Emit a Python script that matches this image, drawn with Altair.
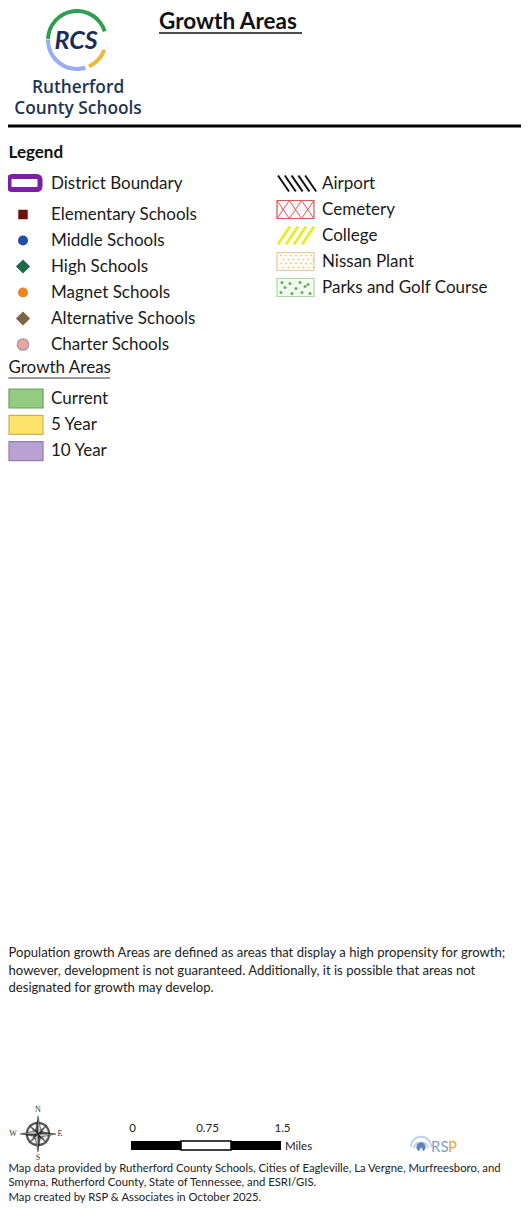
import altair as alt
import pandas as pd

# ---------------- data (text content of the legend sheet) ----------------
title_text = "Growth Areas"
logo_mark = "RCS"
org_lines = ["Rutherford", "County Schools"]
legend_title = "Legend"
boundary_label = "District Boundary"
school_labels = ["Elementary Schools", "Middle Schools", "High Schools",
                 "Magnet Schools", "Alternative Schools", "Charter Schools"]
feature_labels = ["Airport", "Cemetery", "College", "Nissan Plant", "Parks and Golf Course"]
growth_title = "Growth Areas"
growth_labels = ["Current", "5 Year", "10 Year"]
note_lines = [
    "Population growth Areas are defined as areas that display a high propensity for growth;",
    "however, development is not guaranteed. Additionally, it is possible that areas not",
    "designated for growth may develop.",
]
scale_ticks = [0, 0.75, 1.5]
scale_segments = [0, 0.5, 1.0, 1.5]
scale_unit = "Miles"
compass_letters = ["N", "E", "S", "W"]
credit_lines = [
    "Map data provided by Rutherford County Schools, Cities of Eagleville, La Vergne, Murfreesboro, and",
    "Smyrna, Rutherford County, State of Tennessee, and ESRI/GIS.",
    "Map created by RSP & Associates in October 2025.",
]

# ---------------- styles ----------------
FONT = "Lato"
LX = 8.5  # left text margin
school_styles = {
    "Elementary Schools": ("square", "#6e1010", 90, None),
    "Middle Schools": ("circle", "#1f4ea6", 100, None),
    "High Schools": ("diamond", "#1c6b47", 200, None),
    "Magnet Schools": ("circle", "#ec8420", 100, None),
    "Alternative Schools": ("diamond", "#7b6645", 200, None),
    "Charter Schools": ("circle", "#eaa4a4", 130, "#9a9a9a"),
}
growth_styles = {
    "Current": ("#93cc80", "#6f9a60"),
    "5 Year": ("#fde36c", "#c9b25c"),
    "10 Year": ("#b9a1d4", "#8f7eac"),
}

W, H = 513, 1195
xs = alt.Scale(domain=[8, 8 + W], range=[0, W])
ys = alt.Scale(domain=[8, 8 + H], range=[0, H])


def X(f="x"):
    return alt.X(f, type="quantitative", scale=xs, axis=None)


def Y(f="y"):
    return alt.Y(f, type="quantitative", scale=ys, axis=None)


layers = []


def text_layer(rows, size, color="#1a1a1a", weight="normal", align="left",
               style="normal", font=FONT, baseline="middle"):
    df = pd.DataFrame(rows, columns=["x", "y", "t"])
    return alt.Chart(df).mark_text(
        align=align, baseline=baseline, font=font, fontSize=size, color=color,
        fontWeight=weight, fontStyle=style,
    ).encode(x=X(), y=Y(), text="t:N")


def rule_layer(segs, color, width, cap="butt"):
    df = pd.DataFrame(segs, columns=["x", "y", "x2", "y2"])
    return alt.Chart(df).mark_rule(color=color, strokeWidth=width, strokeCap=cap).encode(
        x=X(), y=Y(), x2="x2:Q", y2="y2:Q")


def rect_layer(rects, fill, stroke=None, sw=1, radius=0):
    df = pd.DataFrame(rects, columns=["x", "y", "x2", "y2"])
    kw = dict(fill=fill, cornerRadius=radius)
    if stroke:
        kw.update(stroke=stroke, strokeWidth=sw)
    else:
        kw.update(strokeWidth=0)
    return alt.Chart(df).mark_rect(**kw).encode(x=X(), y=Y(), x2="x2:Q", y2="y2:Q")


def point_layer(pts, shape, fill, size, stroke=None, sw=1, opacity=1):
    df = pd.DataFrame(pts, columns=["x", "y"])
    kw = dict(shape=shape, fill=fill, size=size, filled=True, opacity=opacity)
    if stroke:
        kw.update(stroke=stroke, strokeWidth=sw)
    else:
        kw.update(strokeWidth=0)
    return alt.Chart(df).mark_point(**kw).encode(x=X(), y=Y())


# ---------------- header ----------------
LOGO_C = (77, 40)
for t1, t2, col in [(4.75, 7.55, "#2f9e50"), (2.85, 4.73, "#97aff0"), (1.92, 2.72, "#f2b53c")]:
    df = pd.DataFrame([{"x": LOGO_C[0], "y": LOGO_C[1]}])
    layers.append(alt.Chart(df).mark_arc(radius=31, radius2=27, theta=t1, theta2=t2,
                                         color=col).encode(x=X(), y=Y()))
layers.append(text_layer([(LOGO_C[0] - 1, LOGO_C[1] + 1, logo_mark)], 25, "#1b2d55", "bold",
                         "center", "italic"))
layers.append(text_layer([(78, 87.5, org_lines[0]), (78, 109, org_lines[1])], 17.3,
                         "#1f3354", 600, "center", font="Open Sans"))
layers.append(text_layer([(159, 21.5, title_text)], 22.5, "#111111", "bold"))
layers.append(rule_layer([(159, 33, 302, 33)], "#111111", 1.5))
layers.append(rule_layer([(8, 126, 8 + W, 126)], "#000000", 3))

# ---------------- legend (left column) ----------------
layers.append(text_layer([(LX, 153, legend_title)], 17, "#111111", "bold"))
layers.append(rect_layer([(9, 176.5, 40, 189.5)], "#ffffff", "#7d1fa6", 5, 3))
LROW0, LSTEP = 214.5, 26.0
rows = [(51, 184, boundary_label)]
for i, lab in enumerate(school_labels):
    yv = LROW0 + i * LSTEP
    rows.append((51, yv, lab))
    shape, col, size, stroke = school_styles[lab]
    layers.append(point_layer([(23, yv)], shape, col, size, stroke, 1.2))
layers.append(text_layer(rows, 17, "#1a1a1a"))

# ---------------- growth areas ----------------
layers.append(text_layer([(LX, 368, growth_title)], 17, "#1a1a1a"))
layers.append(rule_layer([(LX, 378, 110, 378)], "#333333", 1))
GROW0, GSTEP = 398.5, 26.3
grows = []
for i, lab in enumerate(growth_labels):
    yv = GROW0 + i * GSTEP
    fill, stroke = growth_styles[lab]
    layers.append(rect_layer([(LX + 0.5, yv - 9.5, 43, yv + 9.5)], fill, stroke, 1.2))
    grows.append((51, yv, lab))
layers.append(text_layer(grows, 17, "#1a1a1a"))

# ---------------- right column: features ----------------
RROW0, RSTEP = 183.5, 26.0
BX0, BX1 = 277, 314
frows = []
for i, lab in enumerate(feature_labels):
    yv = RROW0 + i * RSTEP
    frows.append((322, yv, lab))
    top, bot = yv - 9, yv + 9
    if lab == "Airport":
        segs = [(BX0 + 1 + 6.8 * k, top + 1, BX0 + 12 + 6.8 * k, bot - 1) for k in range(5)]
        layers.append(rule_layer(segs, "#111111", 2))
    elif lab == "Cemetery":
        layers.append(rect_layer([(BX0, top, BX1, bot)], "#fff8f8", "#d65a5a", 1.2))
        segs = []
        for k in range(3):
            a = BX0 + k * 12.3
            segs.append((a, top, a + 12.3, bot))
            segs.append((a, bot, a + 12.3, top))
        layers.append(rule_layer(segs, "#d65a5a", 1))
    elif lab == "College":
        layers.append(rect_layer([(BX0, top, BX1, bot)], "#fffff0", None))
        segs = [(BX0 + 1 + 8 * k, bot, BX0 + 13 + 8 * k, top) for k in range(4)]
        layers.append(rule_layer(segs, "#eaea3c", 3))
    elif lab == "Nissan Plant":
        layers.append(rect_layer([(BX0, top, BX1, bot)], "#fffaf2", "#e8c79c", 1.2))
        dots = []
        for r in range(4):
            for c in range(7):
                dots.append((BX0 + 4 + c * 5 + (2.5 if r % 2 else 0), top + 3 + r * 4))
        layers.append(point_layer(dots, "circle", "#dcb384", 2.2))
    else:
        layers.append(rect_layer([(BX0, top, BX1, bot)], "#f3fbf1", "#a9d9a0", 1.2))
        blobs = [(282, top + 4), (290, top + 5), (300, top + 4), (308, top + 6),
                 (285, yv), (296, yv + 1), (305, yv - 1), (281, bot - 4),
                 (292, bot - 3), (302, bot - 4), (310, bot - 3)]
        layers.append(point_layer(blobs, "circle", "#4f9e45", 9, opacity=0.85))
layers.append(text_layer(frows, 17, "#1a1a1a"))

# ---------------- note ----------------
NOTE0, NSTEP = 953, 17.6
layers.append(text_layer([(LX, NOTE0 + i * NSTEP, t) for i, t in enumerate(note_lines)],
                         13.1, "#222222"))

# ---------------- compass rose ----------------
CC = (38, 1134)
ring = "M0,-0.62 A0.62,0.62 0 1,1 0,0.62 A0.62,0.62 0 1,1 0,-0.62 Z"
main_star = "M0,-1 L0.17,-0.17 L1,0 L0.17,0.17 L0,1 L-0.17,0.17 L-1,0 L-0.17,-0.17 Z"
diag_star = ("M0.55,-0.55 L0.14,0 L0.55,0.55 L0,0.14 L-0.55,0.55 L-0.14,0 "
             "L-0.55,-0.55 L0,-0.14 Z")
white_half = ("M0,-1 L0.17,-0.17 L0,0 Z M1,0 L0.17,0.17 L0,0 Z "
              "M0,1 L-0.17,0.17 L0,0 Z M-1,0 L-0.17,-0.17 L0,0 Z")
cdf = pd.DataFrame([{"x": CC[0], "y": CC[1]}])
layers.append(alt.Chart(cdf).mark_point(shape=ring, size=1300, filled=False, stroke="#111111",
                                        strokeWidth=2.2).encode(x=X(), y=Y()))
layers.append(alt.Chart(cdf).mark_point(shape=diag_star, size=1300, filled=True, fill="#222222",
                                        strokeWidth=0).encode(x=X(), y=Y()))
layers.append(alt.Chart(cdf).mark_point(shape=main_star, size=1300, filled=True, fill="#111111",
                                        strokeWidth=0).encode(x=X(), y=Y()))
layers.append(alt.Chart(cdf).mark_point(shape=white_half, size=1300, filled=True, fill="#ffffff",
                                        stroke="#111111", strokeWidth=0.6).encode(x=X(), y=Y()))
cl_pos = {"N": (CC[0], 1110), "E": (60, CC[1]), "S": (CC[0], 1157.5), "W": (13, CC[1])}
layers.append(text_layer([(cl_pos[c][0], cl_pos[c][1], c) for c in compass_letters], 8,
                         "#333333", "normal", "center", font="Liberation Serif"))

# ---------------- scale bar ----------------
SB_X0, SB_PX = 131, 100.0   # left edge, pixels per mile
SB_T, SB_B = 1141, 1150
seg_rects = []
for a, b in zip(scale_segments[:-1], scale_segments[1:]):
    seg_rects.append((SB_X0 + a * SB_PX, SB_T, SB_X0 + b * SB_PX, SB_B))
layers.append(rect_layer([seg_rects[0], seg_rects[2]], "#000000", None))
layers.append(rect_layer([seg_rects[1]], "#ffffff", "#000000", 1.5))
layers.append(text_layer([(SB_X0 + v * SB_PX + 1.5, 1129, f"{v:g}") for v in scale_ticks], 11.5,
                         "#222222", "normal", "center"))
layers.append(text_layer([(SB_X0 + scale_segments[-1] * SB_PX + 4, 1147, scale_unit)], 11.5,
                         "#222222"))

# ---------------- RSP logo ----------------
rdf = pd.DataFrame([{"x": 421, "y": 1147}])
arcs_icon = "M-1,0 A1,1 0 0,1 1,0 M-0.7,0.1 A0.72,0.72 0 0,1 0.7,0.1"
layers.append(alt.Chart(rdf).mark_point(shape=arcs_icon, size=420, filled=False, stroke="#a9c3e6",
                                        strokeWidth=2).encode(x=X(), y=Y()))
layers.append(alt.Chart(rdf).mark_point(shape="circle", size=85, filled=True, fill="#1f4e96",
                                        strokeWidth=0).encode(x=X(), y=Y()))
layers.append(text_layer([(421, 1149, "▲")], 6, "#ffffff", "bold", "center", font="DejaVu Sans"))
layers.append(text_layer([(431, 1147, "RS")], 15, "#7e9fca"))
layers.append(text_layer([(448, 1147, "P")], 15, "#f0a33a"))

# ---------------- credits ----------------
layers.append(text_layer([(LX, 1169 + i * 14.3, t) for i, t in enumerate(credit_lines)], 11.3,
                         "#222222"))

chart = alt.layer(*layers).properties(
    width=W, height=H, padding=0, autosize=alt.AutoSizeParams(type="none"),
    background="#ffffff",
).configure_view(stroke=None)

chart.save("out.html", embed_options={"renderer": "svg", "actions": False})
